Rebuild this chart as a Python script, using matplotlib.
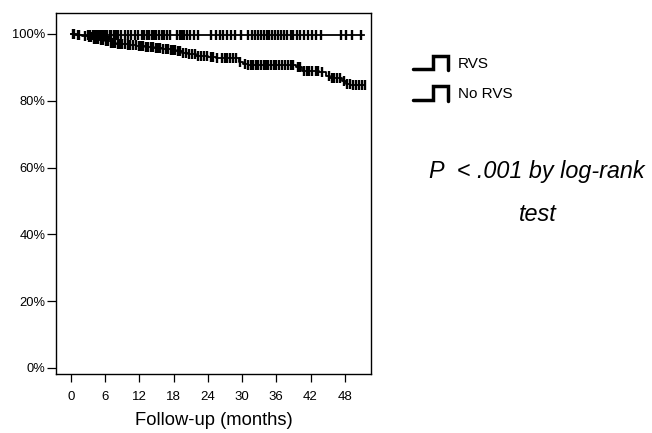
import numpy as np
import matplotlib
matplotlib.use("Agg")
import matplotlib.pyplot as plt
from matplotlib.lines import Line2D

plt.rcParams['font.family'] = ['Liberation Sans', 'DejaVu Sans']

# ---- data ----
x_ticks = [0, 6, 12, 18, 24, 30, 36, 42, 48]
y_ticks = [0, 20, 40, 60, 80, 100]

rvs_times = [0, 1.0, 51.3]
rvs_surv = [100, 99.6, 99.6]
rvs_censor = [0.3, 1.2, 3.0, 3.4, 3.8, 4.2, 4.5, 4.9, 5.3, 5.6, 6.0, 6.4, 6.8, 7.1, 7.5,
              7.9, 8.3, 8.8, 9.5, 10.1, 10.6, 11.3, 11.8, 12.4, 12.8, 13.3, 13.7, 14.2,
              14.6, 15.0, 15.4, 15.9, 16.3, 16.8, 17.3, 18.6, 19.1, 19.5, 19.9, 20.4,
              20.9, 21.5, 22.3, 24.6, 25.4, 26.1, 26.6, 27.3, 28.1, 28.8, 29.9, 31.1,
              31.7, 32.3, 32.8, 33.3, 33.8, 34.3, 34.8, 35.3, 35.8, 36.3, 36.9, 37.4,
              37.9, 38.5, 39.0, 39.6, 40.2, 40.8, 41.5, 42.2, 43.0, 43.9, 47.4, 48.3,
              49.2, 50.9]

norvs_times = [0, 0.8, 2.0, 3.0, 4.0, 5.0, 6.0, 7.0, 8.0, 10.0, 11.5, 13.0, 14.5, 16.0,
               17.5, 18.5, 19.5, 20.5, 22.0, 24.0, 25.5, 29.5, 30.2, 31.0, 39.5, 40.5,
               43.5, 44.8, 45.5, 47.5, 48.2, 49.0, 51.5]
norvs_surv = [100, 99.7, 99.4, 99.0, 98.6, 98.2, 97.8, 97.4, 97.1, 96.8, 96.4, 96.1,
              95.8, 95.5, 95.2, 94.8, 94.4, 93.9, 93.5, 93.1, 92.7, 91.6, 91.0, 90.6,
              90.0, 89.0, 88.6, 87.5, 86.8, 85.9, 85.0, 84.6, 84.6]
norvs_censor = [0.5, 1.5, 2.5, 3.2, 3.6, 4.0, 4.4, 4.8, 5.2, 5.6, 6.1, 6.5, 7.0, 7.4,
                7.8, 8.2, 8.6, 9.0, 9.5, 10.0, 10.4, 10.9, 11.4, 11.9, 12.3, 12.7, 13.1,
                13.6, 14.0, 14.4, 14.9, 15.3, 15.7, 16.2, 16.6, 17.0, 17.5, 17.9, 18.3,
                18.8, 19.2, 19.7, 20.1, 20.7, 21.2, 21.7, 22.3, 22.8, 23.3, 23.9, 24.5,
                25.0, 25.7, 26.5, 27.0, 27.4, 27.9, 28.4, 28.9, 29.6, 30.5, 31.0, 31.6,
                32.0, 32.4, 32.8, 33.3, 33.8, 34.2, 34.6, 35.1, 35.6, 36.0, 36.5, 37.0,
                37.5, 38.0, 38.5, 39.0, 39.8, 40.2, 40.8, 41.3, 41.8, 42.3, 42.9, 43.4,
                44.0, 45.2, 45.7, 46.2, 46.7, 47.1, 47.8, 48.4, 48.9, 49.5, 50.0, 50.5,
                51.0, 51.5]

legend_labels = ['RVS', 'No RVS']
pvalue_text = ['P  < .001 by log-rank', 'test']
x_label = 'Follow-up (months)'

# ---- figure ----
W, H = 652, 433
fig = plt.figure(figsize=(W / 100, H / 100), dpi=100)
ax = fig.add_axes([56 / W, 1 - 374 / H, (371 - 56) / W, (374 - 12.5) / H])


def surv_at(times, surv, t):
    idx = np.searchsorted(np.asarray(times), np.asarray(t), side='right') - 1
    return np.asarray(surv)[idx]


for times, surv, cens in [(rvs_times, rvs_surv, rvs_censor),
                          (norvs_times, norvs_surv, norvs_censor)]:
    ax.step(times, surv, where='post', color='black', lw=1.3)
    ax.plot(cens, surv_at(times, surv, cens), linestyle='none', marker='|',
            color='black', markersize=6.5, mew=1.7)

ax.set_xlim(-2.6, 52.6)
ax.set_ylim(-1.8, 106.4)
ax.set_xticks(x_ticks)
ax.set_xticklabels([str(v) for v in x_ticks], fontsize=9.5)
ax.set_yticks(y_ticks)
ax.set_yticklabels([f'{v}%' for v in y_ticks], fontsize=9.3)
ax.tick_params(axis='y', direction='out', length=6.5, width=0.9, pad=1, colors='black')
ax.tick_params(axis='x', direction='out', length=6, width=0.9, pad=6, colors='black')
for s in ax.spines.values():
    s.set_linewidth(1.0)
    s.set_color('black')
ax.set_xlabel(x_label, fontsize=13.2, labelpad=7)

# legend glyphs drawn in pixel coords
def fx(px):
    return px / W


def fy(py):
    return 1 - py / H


for i, lab in enumerate(legend_labels):
    low = 69.3 + i * 30.2
    high = 55.5 + i * 30.2
    xs = [413.5, 433, 433, 448, 448]
    ys = [low, low, high, high, low + 1]
    fig.add_artist(Line2D([fx(v) for v in xs], [fy(v) for v in ys],
                          color='black', lw=2.5, solid_joinstyle='miter',
                          solid_capstyle='round', transform=fig.transFigure))
    fig.text(fx(458), fy(low - 1.5), lab, fontsize=11, ha='left', va='baseline')

fig.text(fx(537), fy(178), pvalue_text[0], fontsize=16.8, style='italic',
         ha='center', va='baseline')
fig.text(fx(538), fy(221), pvalue_text[1], fontsize=16.8, style='italic',
         ha='center', va='baseline')

fig.savefig('out.png', dpi=100)
